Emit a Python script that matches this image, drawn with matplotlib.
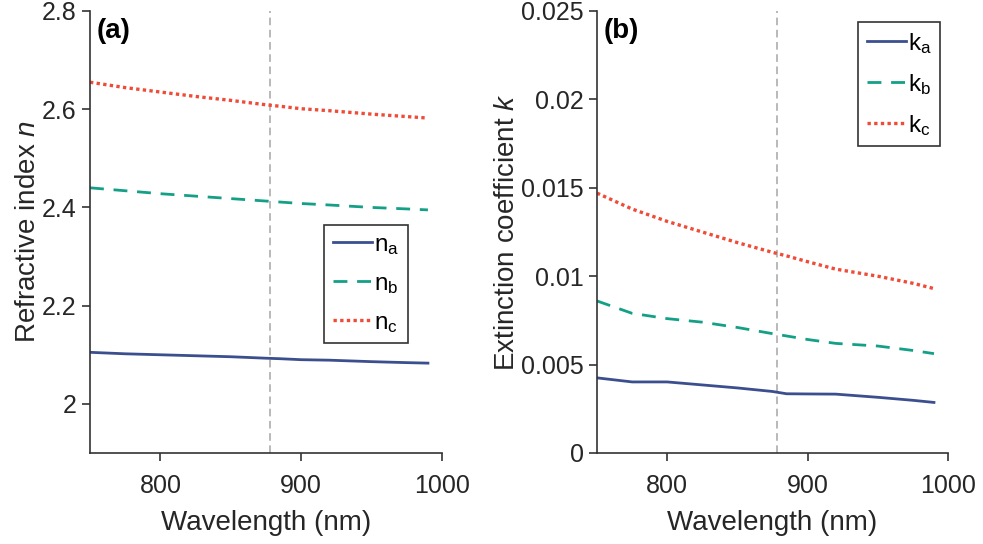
import matplotlib
matplotlib.use("Agg")
import matplotlib.pyplot as plt
from matplotlib.ticker import FuncFormatter

plt.rcParams['font.family'] = ['Liberation Sans', 'DejaVu Sans']
plt.rcParams['mathtext.fontset'] = 'custom'
plt.rcParams['mathtext.rm'] = 'Liberation Sans'
plt.rcParams['mathtext.it'] = 'Liberation Sans:italic'

# Data
wavelength = [750, 775, 800, 825, 850, 875, 885, 900, 920, 950, 975, 990]
n_a = [2.105, 2.102, 2.100, 2.098, 2.096, 2.093, 2.092, 2.090, 2.089, 2.086, 2.084, 2.083]
n_b = [2.440, 2.434, 2.428, 2.423, 2.418, 2.413, 2.411, 2.408, 2.405, 2.400, 2.397, 2.395]
n_c = [2.655, 2.644, 2.635, 2.626, 2.618, 2.609, 2.606, 2.601, 2.597, 2.590, 2.585, 2.582]
k_a = [0.00425, 0.00402, 0.00402, 0.00385, 0.00368, 0.00348, 0.00335, 0.00334, 0.00333, 0.00315, 0.00298, 0.00286]
k_b = [0.00860, 0.00790, 0.00760, 0.00740, 0.00710, 0.00675, 0.00662, 0.00642, 0.00620, 0.00605, 0.00580, 0.00562]
k_c = [0.01470, 0.01380, 0.01310, 0.01250, 0.01190, 0.01135, 0.01115, 0.01082, 0.01040, 0.01000, 0.00960, 0.00930]
marker_wl = 878
xticks = [800, 900, 1000]
n_ticks = [2, 2.2, 2.4, 2.6, 2.8]
k_ticks = [0, 0.005, 0.01, 0.015, 0.02, 0.025]

c_a = '#3b4f8f'
c_b = '#14a087'
c_c = '#ef4b37'
axc = '#333333'

fig = plt.figure(figsize=(9.83, 5.44), dpi=100)
ax1 = fig.add_axes([90/983, 91/544, 352/983, 442/544])
ax2 = fig.add_axes([597/983, 91/544, 351/983, 442/544])

def style(ax):
    for s in ['top', 'right']:
        ax.spines[s].set_visible(False)
    for s in ['left', 'bottom']:
        ax.spines[s].set_color(axc)
        ax.spines[s].set_linewidth(1.2)
    ax.tick_params(direction='out', length=6, width=1.2, colors=axc,
                   labelsize=18, labelcolor='#262626')
    ax.tick_params(axis='x', pad=9)
    ax.tick_params(axis='y', pad=3.5)
    ax.set_xlim(750, 1000)
    ax.set_xticks(xticks)
    ax.set_xlabel('Wavelength (nm)', fontsize=20, color='#262626', labelpad=9)

lw = 2.0
ax1.axvline(marker_wl, color='#a6a6a6', lw=1.1, ls=(0, (5, 3)), zorder=1)
ax1.plot(wavelength, n_a, color=c_a, lw=lw, label=r'n$_\mathregular{a}$')
ax1.plot(wavelength, n_b, color=c_b, lw=lw, ls=(0, (5, 3.5)), label=r'n$_\mathregular{b}$')
ax1.plot(wavelength, n_c, color=c_c, lw=2.4, ls=(0, (1, 1)), label=r'n$_\mathregular{c}$')
style(ax1)
ax1.set_ylim(1.9, 2.8)
ax1.set_yticks(n_ticks)
ax1.yaxis.set_major_formatter(FuncFormatter(lambda v, p: f'{v:g}'))
ax1.set_ylabel(r'Refractive index $n$', fontsize=20, color='#262626', labelpad=1)
ax1.text(0.02, 0.985, '(a)', transform=ax1.transAxes, fontsize=20, fontweight='bold',
         va='top', ha='left')

ax2.axvline(marker_wl, color='#a6a6a6', lw=1.1, ls=(0, (5, 3)), zorder=1)
ax2.plot(wavelength, k_a, color=c_a, lw=lw, label=r'k$_\mathregular{a}$')
ax2.plot(wavelength, k_b, color=c_b, lw=lw, ls=(0, (5, 3.5)), label=r'k$_\mathregular{b}$')
ax2.plot(wavelength, k_c, color=c_c, lw=2.4, ls=(0, (1, 1)), label=r'k$_\mathregular{c}$')
style(ax2)
ax2.set_ylim(0, 0.025)
ax2.set_yticks(k_ticks)
ax2.yaxis.set_major_formatter(FuncFormatter(lambda v, p: f'{v:g}'))
ax2.set_ylabel(r'Extinction coefficient $k$', fontsize=20, color='#262626', labelpad=1)
ax2.text(0.02, 0.985, '(b)', transform=ax2.transAxes, fontsize=20, fontweight='bold',
         va='top', ha='left')

def leg(ax, bbox):
    l = ax.legend(loc='upper left', bbox_to_anchor=bbox, fontsize=17.5, frameon=True,
                  fancybox=False, handlelength=1.6, handletextpad=0.08,
                  labelspacing=0.66, borderpad=0.36, borderaxespad=0)
    fr = l.get_frame()
    fr.set_edgecolor('#333333')
    fr.set_linewidth(1.2)
    fr.set_facecolor('white')
    fr.set_alpha(1)
    return l

leg(ax1, ((324 - 90) / 352, (453 - 225) / 442))
leg(ax2, ((858 - 597) / 351, (453 - 22) / 442))

fig.savefig('out.png', dpi=100)
